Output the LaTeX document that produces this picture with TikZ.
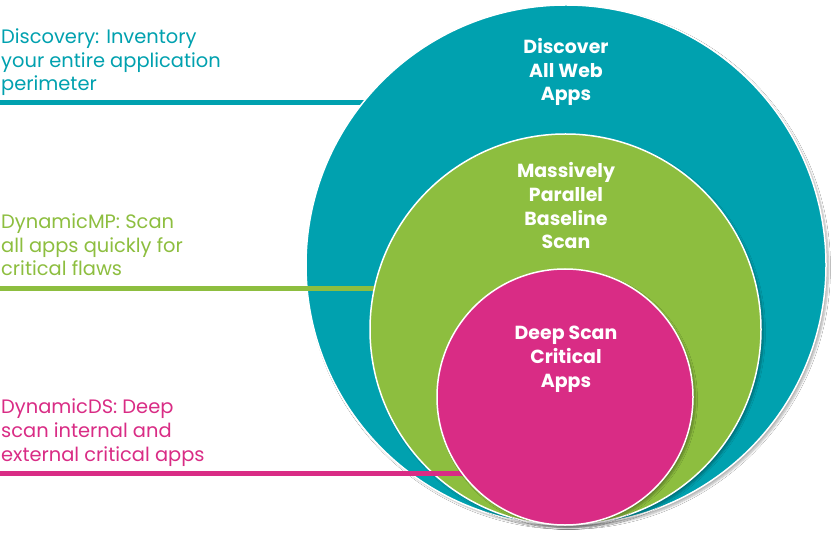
\documentclass[tikz,border=0pt]{standalone}
\usepackage{fontspec}
\setmainfont{Poppins}
\usepackage{xcolor}
\usepackage{tikz}
\usetikzlibrary{positioning,shadows.blur}
\definecolor{discoteal}{RGB}{0,161,175}
\definecolor{scangreen}{RGB}{141,190,63}
\definecolor{deeppink}{RGB}{217,44,133}
\def\barwidth{5bp}
\def\ringfont{\bfseries\fontsize{19}{24}\selectfont}
\def\sidefont{\fontsize{19.5}{24}\selectfont}

\begin{document}
\begin{tikzpicture}[x=1bp, y=-1bp,
    ring/.style={circle, draw=white, line width=1.5bp, inner sep=0pt,
      blur shadow={shadow xshift=2.5pt, shadow yshift=-2.5pt, shadow opacity=30,
                   shadow blur steps=6, shadow blur radius=2pt}},
    ringtext/.style={text=white, font=\ringfont, align=center, anchor=base, inner sep=0pt},
    sidetext/.style={font=\sidefont, align=left, anchor=base west, inner sep=0pt},
    bar/.style={line width=\barwidth}]

  \useasboundingbox (0,0) rectangle (840,540);
  \fill[white] (0,0) rectangle (840,540);

  % side notes (anchored at the baseline of their last line)
  \node[sidetext, text=discoteal] (discovery) at (1,91) {Discovery: Inventory\\your entire application\\perimeter};
  \node[sidetext, text=scangreen] (dynamicmp) at (1,276) {DynamicMP: Scan\\all apps quickly for\\critical flaws};
  \node[sidetext, text=deeppink] (dynamicds) at (1,461) {DynamicDS: Deep\\scan internal and\\external critical apps};

  \coordinate (ringaxis) at (566,265);
  \coordinate (discoverybar) at (0,103);
  \coordinate (dynamicmpbar) at (0,289);
  \coordinate (dynamicdsbar) at (0,473);

  % outer ring
  \draw[bar, discoteal] (discoverybar) -- (discoverybar -| ringaxis);
  \node[ring, fill=discoteal, minimum size=520bp] (discover) at (ringaxis) {};

  % middle ring
  \draw[bar, scangreen] (dynamicmpbar) -- (dynamicmpbar -| ringaxis);
  \node[ring, fill=scangreen, minimum size=391bp] (baseline) at (565.5,329.5) {};

  % inner ring
  \draw[bar, deeppink] (dynamicdsbar) -- (dynamicdsbar -| ringaxis);
  \node[ring, fill=deeppink, minimum size=256bp] (deepscan) at (565,397) {};

  \node[ringtext] (discovertext) at (566,101) {Discover\\All Web\\Apps};
  \node[ringtext] (baselinetext) at (566,249) {Massively\\Parallel\\Baseline\\Scan};
  \node[ringtext] (deepscantext) at (566,387) {Deep Scan\\Critical\\Apps};

\end{tikzpicture}
\end{document}
